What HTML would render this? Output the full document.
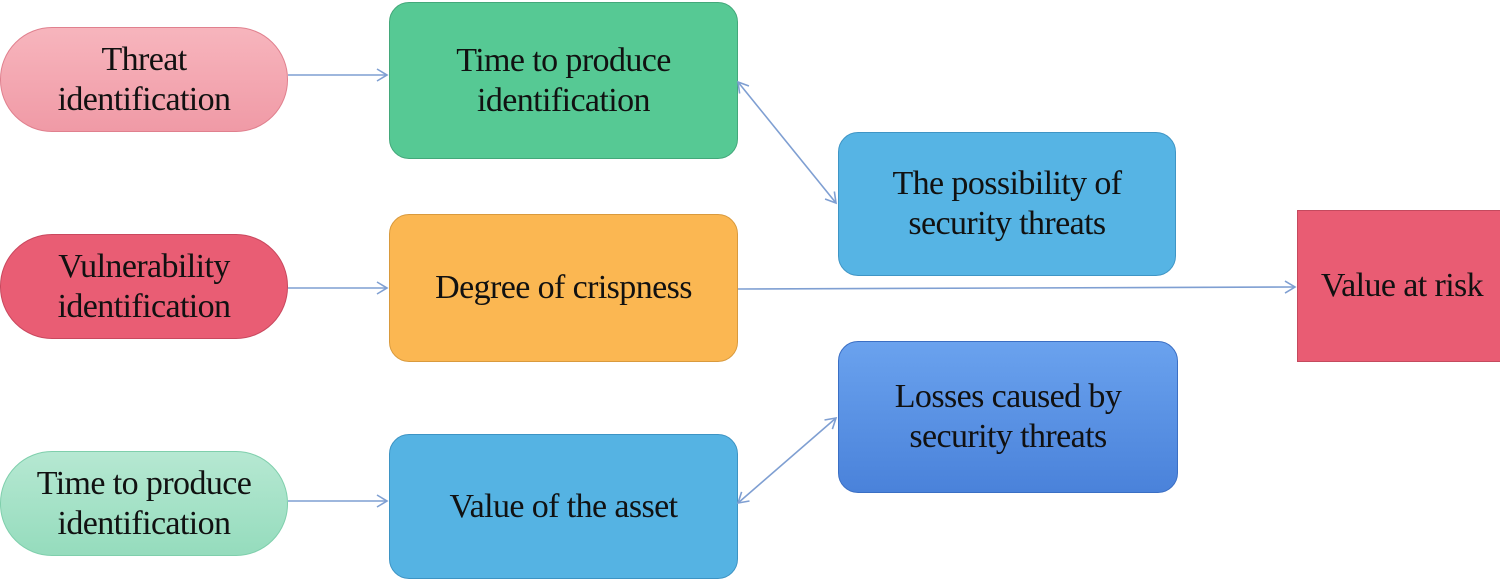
<!DOCTYPE html>
<html><head><style>
body{margin:0;width:1500px;height:576px;background:#fff;position:relative;overflow:hidden;font-family:"Liberation Serif",serif;}
.b{position:absolute;box-sizing:border-box;display:flex;align-items:center;justify-content:center;text-align:center;font-size:34px;letter-spacing:-0.6px;line-height:40px;color:#111;white-space:nowrap;}
.pill{border-radius:52px;}
.r{border-radius:20px;}
svg{position:absolute;left:0;top:0}
</style></head><body>
<div class="b pill" style="left:0;top:27px;width:288px;height:105px;background:linear-gradient(#f7b5bd,#f09aa6);border:1.5px solid #e0808e">Threat<br>identification</div>
<div class="b pill" style="left:0;top:234px;width:288px;height:105px;background:#e95d74;border:1.5px solid #c9485e">Vulnerability<br>identification</div>
<div class="b pill" style="left:0;top:451px;width:288px;height:105px;background:linear-gradient(#b6e8d2,#95dcbd);border:1.5px solid #7fcfac">Time to produce<br>identification</div>
<div class="b r" style="left:389px;top:2px;width:349px;height:157px;background:#56c994;border:1.5px solid #43a87a">Time to produce<br>identification</div>
<div class="b r" style="left:389px;top:214px;width:349px;height:148px;background:#fbb752;border:1.5px solid #d99a3d">Degree of crispness</div>
<div class="b r" style="left:389px;top:434px;width:349px;height:145px;background:#55b3e3;border:1.5px solid #3d94c4">Value of the asset</div>
<div class="b r" style="left:838px;top:132px;width:338px;height:144px;background:#56b4e4;border:1.5px solid #3f95c5">The possibility of<br>security threats</div>
<div class="b r" style="left:838px;top:341px;width:340px;height:152px;background:linear-gradient(#6aa2ee,#4a82da);border:1.5px solid #3b6fc4">Losses caused by<br>security threats</div>
<div class="b" style="left:1297px;top:210px;width:210px;height:152px;background:#e95c73;border:1.5px solid #c44a5e">Value at risk</div>
<svg width="1500" height="576">
<defs><marker id="a" markerWidth="14" markerHeight="14" refX="12" refY="7" orient="auto-start-reverse" markerUnits="userSpaceOnUse"><path d="M2,1 L12,7 L2,13" fill="none" stroke="#7f9fd2" stroke-width="1.6"/></marker></defs>
<g stroke="#7f9fd2" stroke-width="1.6" fill="none">
<line x1="288" y1="75" x2="387" y2="75" marker-end="url(#a)"/>
<line x1="288" y1="288" x2="387" y2="288" marker-end="url(#a)"/>
<line x1="288" y1="501" x2="387" y2="501" marker-end="url(#a)"/>
<line x1="738" y1="289" x2="1295" y2="287" marker-end="url(#a)"/>
<line x1="738" y1="82" x2="836" y2="203" marker-start="url(#a)" marker-end="url(#a)"/>
<line x1="738" y1="503" x2="836" y2="418" marker-start="url(#a)" marker-end="url(#a)"/>
</g></svg>
</body></html>
